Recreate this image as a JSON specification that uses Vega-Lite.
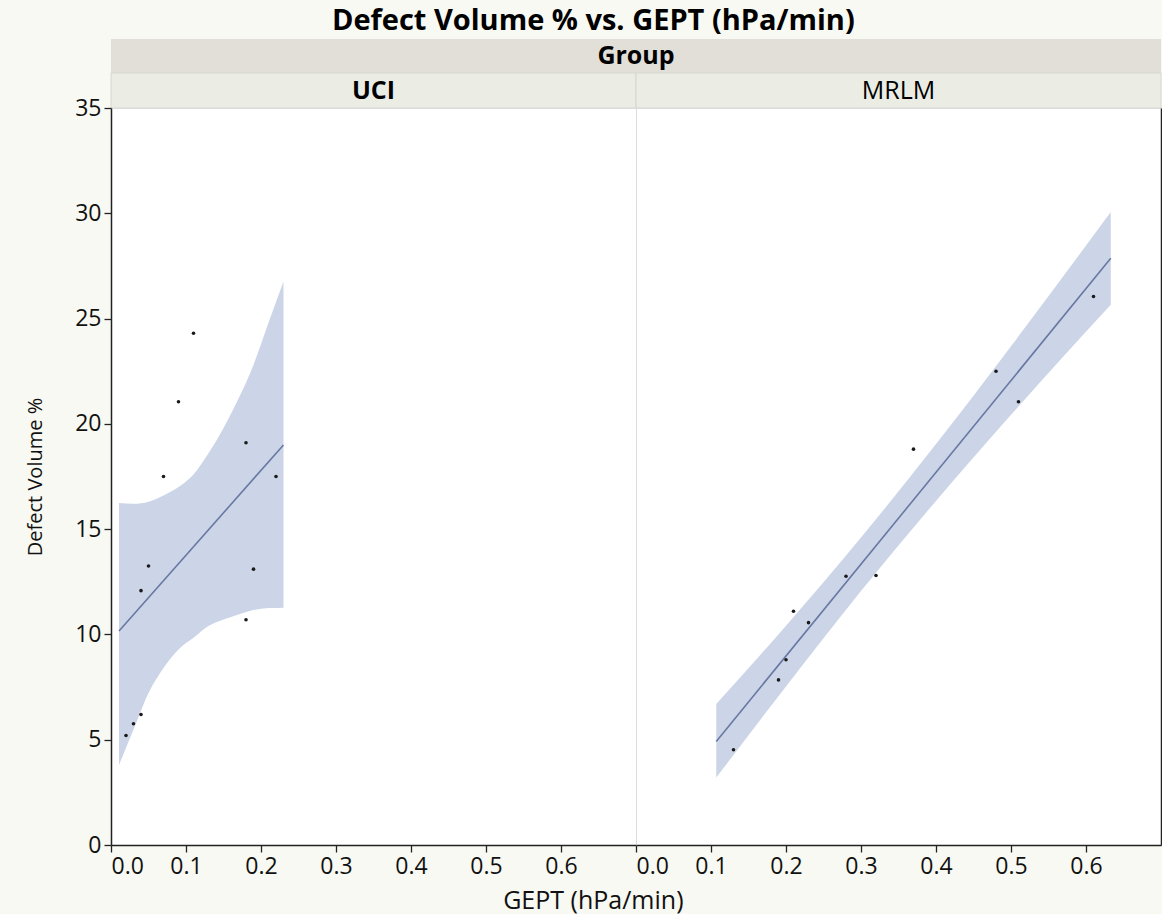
{
  "$schema": "https://vega.github.io/schema/vega-lite/v6.json",
  "background": "#f8f9f2",
  "padding": {"left": 25, "top": 7, "right": 0, "bottom": 5},
  "title": {"text": "Defect Volume % vs. GEPT (hPa/min)", "fontSize": 29, "fontWeight": "bold", "font": "Open Sans", "anchor": "middle", "color": "#000000", "offset": 3},
  "config": {
    "font": "Open Sans",
    "view": {"stroke": null},
    "axis": {"labelFont": "Open Sans", "titleFont": "Open Sans", "labelColor": "#111111", "titleColor": "#111111", "domainColor": "#222222", "tickColor": "#222222", "grid": false}
  },
  "datasets": {
    "points": [
      {"Group": "UCI", "GEPT": 0.02, "DV": 5.2},
      {"Group": "UCI", "GEPT": 0.03, "DV": 5.76},
      {"Group": "UCI", "GEPT": 0.04, "DV": 6.2},
      {"Group": "UCI", "GEPT": 0.04, "DV": 12.08},
      {"Group": "UCI", "GEPT": 0.05, "DV": 13.25},
      {"Group": "UCI", "GEPT": 0.07, "DV": 17.5},
      {"Group": "UCI", "GEPT": 0.09, "DV": 21.05},
      {"Group": "UCI", "GEPT": 0.11, "DV": 24.3},
      {"Group": "UCI", "GEPT": 0.18, "DV": 19.1},
      {"Group": "UCI", "GEPT": 0.18, "DV": 10.7},
      {"Group": "UCI", "GEPT": 0.19, "DV": 13.1},
      {"Group": "UCI", "GEPT": 0.22, "DV": 17.5},
      {"Group": "MRLM", "GEPT": 0.13, "DV": 4.52},
      {"Group": "MRLM", "GEPT": 0.19, "DV": 7.84},
      {"Group": "MRLM", "GEPT": 0.2, "DV": 8.8},
      {"Group": "MRLM", "GEPT": 0.21, "DV": 11.1},
      {"Group": "MRLM", "GEPT": 0.23, "DV": 10.56},
      {"Group": "MRLM", "GEPT": 0.28, "DV": 12.76},
      {"Group": "MRLM", "GEPT": 0.32, "DV": 12.8},
      {"Group": "MRLM", "GEPT": 0.37, "DV": 18.8},
      {"Group": "MRLM", "GEPT": 0.48, "DV": 22.5},
      {"Group": "MRLM", "GEPT": 0.51, "DV": 21.05},
      {"Group": "MRLM", "GEPT": 0.61, "DV": 26.05}
    ],
    "band": [
      {"Group": "UCI", "GEPT": 0.0107, "lo": 3.8, "hi": 16.24, "fit": 10.16},
      {"Group": "UCI", "GEPT": 0.03, "lo": 5.48, "hi": 16.2},
      {"Group": "UCI", "GEPT": 0.05, "lo": 7.22, "hi": 16.3},
      {"Group": "UCI", "GEPT": 0.07, "lo": 8.41, "hi": 16.6},
      {"Group": "UCI", "GEPT": 0.09, "lo": 9.29, "hi": 17.0},
      {"Group": "UCI", "GEPT": 0.11, "lo": 9.84, "hi": 17.6},
      {"Group": "UCI", "GEPT": 0.13, "lo": 10.4, "hi": 18.6},
      {"Group": "UCI", "GEPT": 0.15, "lo": 10.71, "hi": 19.8},
      {"Group": "UCI", "GEPT": 0.17, "lo": 10.95, "hi": 21.2},
      {"Group": "UCI", "GEPT": 0.19, "lo": 11.16, "hi": 22.8},
      {"Group": "UCI", "GEPT": 0.21, "lo": 11.25, "hi": 24.8},
      {"Group": "UCI", "GEPT": 0.23, "lo": 11.27, "hi": 26.76, "fit": 19.0},
      {"Group": "MRLM", "GEPT": 0.107, "lo": 3.2, "hi": 6.7, "fit": 4.92},
      {"Group": "MRLM", "GEPT": 0.2, "lo": 7.53, "hi": 10.41},
      {"Group": "MRLM", "GEPT": 0.3, "lo": 12.06, "hi": 14.6},
      {"Group": "MRLM", "GEPT": 0.4, "lo": 16.34, "hi": 19.04},
      {"Group": "MRLM", "GEPT": 0.5, "lo": 20.43, "hi": 23.69},
      {"Group": "MRLM", "GEPT": 0.633, "lo": 25.66, "hi": 30.06, "fit": 27.86}
    ],
    "headers": [
      {"label": "UCI"},
      {"label": "MRLM"}
    ]
  },
  "spacing": 0,
  "bounds": "flush",
  "vconcat": [
    {
      "width": 1050,
      "height": 34,
      "view": {"fill": "#e2dfd8", "stroke": null},
      "data": {"values": [{"label": "Group"}]},
      "mark": {"type": "text", "fontSize": 25, "fontWeight": "bold", "color": "#000000", "baseline": "middle", "align": "center"},
      "encoding": {"text": {"field": "label"}}
    },
    {
      "width": 1050,
      "height": 35,
      "view": {"fill": "#ebede5", "stroke": null},
      "data": {"name": "headers"},
      "encoding": {
        "x": {"field": "label", "type": "nominal", "sort": ["UCI", "MRLM"], "scale": {"paddingInner": 0, "paddingOuter": 0}, "axis": null}
      },
      "layer": [
        {"mark": {"type": "bar", "fill": "#ebede5", "stroke": "#d6d6d0", "strokeWidth": 1}},
        {
          "transform": [{"filter": "datum.label === 'UCI'"}],
          "mark": {"type": "text", "fontSize": 25, "fontWeight": "bold", "color": "#000000", "baseline": "middle", "align": "center"},
          "encoding": {"text": {"field": "label"}}
        },
        {
          "transform": [{"filter": "datum.label === 'MRLM'"}],
          "mark": {"type": "text", "fontSize": 25, "fontWeight": "normal", "color": "#000000", "baseline": "middle", "align": "center"},
          "encoding": {"text": {"field": "label"}}
        }
      ]
    },
    {
      "spacing": 0,
      "bounds": "flush",
      "title": {"text": "GEPT (hPa/min)", "orient": "bottom", "anchor": "middle", "fontSize": 25, "fontWeight": "normal", "color": "#111111", "offset": 10},
      "hconcat": [
        {
          "width": 525,
          "height": 737,
          "view": {"fill": "#ffffff", "stroke": "#dcdcdc"},
          "layer": [
            {
              "data": {"name": "band"},
              "transform": [{"filter": "datum.Group === 'UCI'"}],
              "mark": {"type": "area", "color": "#ccd5e7", "opacity": 1, "interpolate": "monotone"},
              "encoding": {
                "x": {"field": "GEPT", "type": "quantitative", "scale": {"domain": [0, 0.7], "nice": false}},
                "y": {"field": "lo", "type": "quantitative", "scale": {"domain": [0, 35], "nice": false}},
                "y2": {"field": "hi"}
              }
            },
            {
              "data": {"name": "band"},
              "transform": [{"filter": "datum.Group === 'UCI' && isValid(datum.fit)"}],
              "mark": {"type": "line", "color": "#6878a3", "strokeWidth": 1.6},
              "encoding": {
                "x": {"field": "GEPT", "type": "quantitative"},
                "y": {"field": "fit", "type": "quantitative"}
              }
            },
            {
              "data": {"name": "points"},
              "transform": [{"filter": "datum.Group === 'UCI'"}],
              "mark": {"type": "circle", "size": 13, "color": "#1a1a1a", "opacity": 1},
              "encoding": {
                "x": {"field": "GEPT", "type": "quantitative", "axis": {"title": null, "values": [0, 0.1, 0.2, 0.3, 0.4, 0.5, 0.6], "format": ".1f", "labelFontSize": 23, "tickSize": 7, "domainWidth": 1.5, "tickWidth": 1.3, "labelPadding": 3, "labelFlush": true}},
                "y": {"field": "DV", "type": "quantitative", "axis": {"title": "Defect Volume %", "titleFontSize": 20, "titleFontWeight": "normal", "values": [0, 5, 10, 15, 20, 25, 30, 35], "labelFontSize": 23, "tickSize": 7, "domainWidth": 1.5, "tickWidth": 1.3, "labelPadding": 3, "titlePadding": 29}}
              }
            }
          ]
        },
        {
          "width": 525,
          "height": 737,
          "view": {"fill": "#ffffff", "stroke": "#dcdcdc"},
          "layer": [
            {
              "data": {"name": "band"},
              "transform": [{"filter": "datum.Group === 'MRLM'"}],
              "mark": {"type": "area", "color": "#ccd5e7", "opacity": 1, "interpolate": "monotone"},
              "encoding": {
                "x": {"field": "GEPT", "type": "quantitative", "scale": {"domain": [0, 0.7], "nice": false}},
                "y": {"field": "lo", "type": "quantitative", "scale": {"domain": [0, 35], "nice": false}},
                "y2": {"field": "hi"}
              }
            },
            {
              "data": {"name": "band"},
              "transform": [{"filter": "datum.Group === 'MRLM' && isValid(datum.fit)"}],
              "mark": {"type": "line", "color": "#6878a3", "strokeWidth": 1.6},
              "encoding": {
                "x": {"field": "GEPT", "type": "quantitative"},
                "y": {"field": "fit", "type": "quantitative"}
              }
            },
            {
              "data": {"name": "points"},
              "transform": [{"filter": "datum.Group === 'MRLM'"}],
              "mark": {"type": "circle", "size": 13, "color": "#1a1a1a", "opacity": 1},
              "encoding": {
                "x": {"field": "GEPT", "type": "quantitative", "axis": {"title": null, "values": [0, 0.1, 0.2, 0.3, 0.4, 0.5, 0.6], "format": ".1f", "labelFontSize": 23, "tickSize": 7, "domainWidth": 1.5, "tickWidth": 1.3, "labelPadding": 3, "labelFlush": true}},
                "y": {"field": "DV", "type": "quantitative", "axis": {"orient": "right", "title": null, "labels": false, "ticks": false, "domainWidth": 1.5}}
              }
            }
          ]
        }
      ]
    }
  ]
}
